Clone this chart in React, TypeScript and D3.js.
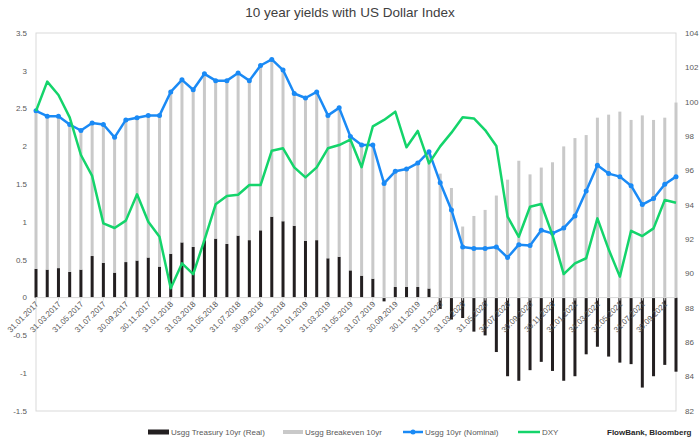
import * as React from "react";
import * as d3 from "d3";

// month-end categories, Jan 2017 .. Oct 2021
const dates = [
  "31.01.2017", "28.02.2017", "31.03.2017", "30.04.2017", "31.05.2017", "30.06.2017",
  "31.07.2017", "31.08.2017", "30.09.2017", "31.10.2017", "30.11.2017", "31.12.2017",
  "31.01.2018", "28.02.2018", "31.03.2018", "30.04.2018", "31.05.2018", "30.06.2018",
  "31.07.2018", "31.08.2018", "30.09.2018", "31.10.2018", "30.11.2018", "31.12.2018",
  "31.01.2019", "28.02.2019", "31.03.2019", "30.04.2019", "31.05.2019", "30.06.2019",
  "31.07.2019", "31.08.2019", "30.09.2019", "31.10.2019", "30.11.2019", "31.12.2019",
  "31.01.2020", "29.02.2020", "31.03.2020", "30.04.2020", "31.05.2020", "30.06.2020",
  "31.07.2020", "31.08.2020", "30.09.2020", "31.10.2020", "30.11.2020", "31.12.2020",
  "31.01.2021", "28.02.2021", "31.03.2021", "30.04.2021", "31.05.2021", "30.06.2021",
  "31.07.2021", "31.08.2021", "30.09.2021", "31.10.2021",
];

const real = [
  0.38, 0.37, 0.39, 0.34, 0.37, 0.55, 0.46, 0.33, 0.47, 0.49, 0.53, 0.41,
  0.58, 0.73, 0.67, 0.76, 0.78, 0.71, 0.82, 0.76, 0.89, 1.07, 1.01, 0.95,
  0.75, 0.76, 0.52, 0.54, 0.36, 0.29, 0.25, -0.05, 0.14, 0.14, 0.14, 0.12,
  -0.15, -0.29, -0.27, -0.45, -0.5, -0.72, -1.04, -1.1, -0.96, -0.85, -0.97, -1.1,
  -1.04, -0.75, -0.65, -0.78, -0.86, -0.88, -1.19, -1.04, -0.89, -0.98,
];

const breakeven = [
  2.09, 2.03, 2.01, 1.95, 1.84, 1.76, 1.83, 1.79, 1.88, 1.89, 1.88, 2.0,
  2.14, 2.15, 2.08, 2.2, 2.09, 2.16, 2.15, 2.11, 2.18, 2.08, 2.0, 1.75,
  1.89, 1.96, 1.89, 1.97, 1.77, 1.73, 1.77, 1.56, 1.53, 1.56, 1.64, 1.81,
  1.64, 1.45, 0.94, 1.08, 1.16, 1.35, 1.56, 1.81, 1.63, 1.72, 1.79, 2.0,
  2.11, 2.15, 2.38, 2.42, 2.46, 2.35, 2.41, 2.35, 2.38, 2.58,
];

const nominal = [
  2.47, 2.4, 2.4, 2.29, 2.21, 2.31, 2.29, 2.12, 2.35, 2.38, 2.41, 2.41,
  2.72, 2.88, 2.75, 2.96, 2.87, 2.87, 2.97, 2.87, 3.07, 3.15, 3.01, 2.7,
  2.64, 2.72, 2.41, 2.51, 2.13, 2.02, 2.02, 1.51, 1.67, 1.7, 1.78, 1.93,
  1.52, 1.16, 0.67, 0.65, 0.65, 0.67, 0.53, 0.7, 0.69, 0.89, 0.85, 0.92,
  1.08, 1.41, 1.75, 1.64, 1.6, 1.48, 1.23, 1.31, 1.5, 1.6,
];

const dxy = [
  99.46, 101.17, 100.39, 99.09, 96.9, 95.68, 92.92, 92.65, 93.08, 94.61, 93.02, 92.14,
  89.14, 90.59, 89.97, 91.95, 94.03, 94.51, 94.59, 95.15, 95.15, 97.15, 97.29, 96.18,
  95.6, 96.18, 97.29, 97.48, 97.8, 96.19, 98.57, 98.94, 99.42, 97.35, 98.3, 96.41,
  97.4, 98.2, 99.09, 99.03, 98.35, 97.42, 93.31, 92.14, 93.89, 94.05, 92.24, 89.97,
  90.59, 90.89, 93.21, 91.41, 89.82, 92.49, 92.18, 92.63, 94.28, 94.12,
];

const leftTicks = [-1.5, -1, -0.5, 0, 0.5, 1, 1.5, 2, 2.5, 3, 3.5];
const rightTicks = [82, 84, 86, 88, 90, 92, 94, 96, 98, 100, 102, 104];

const title = "10 year yields with US Dollar Index";
const seriesNames = ["Usgg Treasury 10yr (Real)", "Usgg Breakeven 10yr", "Usgg 10yr (Nominal)", "DXY"];
const source = "FlowBank, Bloomberg";

const W = 700;
const H = 439;
const left = 36;
const right = 676;
const top = 33;
const bottom = 411;

const BLACK = "#231f20";
const GRAY = "#c9c9c9";
const BLUE = "#1a8af5";
const GREEN = "#14d46b";
const TEXT = "#595959";
const FONT = "'Liberation Sans', Arial, sans-serif";

export default function App() {
  const x = d3.scaleLinear().domain([0, dates.length - 1]).range([left, right]);
  const yL = d3.scaleLinear().domain([-1.5, 3.5]).range([bottom, top]);
  const yR = d3.scaleLinear().domain([82, 104]).range([bottom, top]);

  const rows = dates.map((d, i) => ({ real: real[i], be: breakeven[i] }));
  // excel-style stacked columns: negatives go below zero, positives pile up
  const stacked = d3
    .stack<{ real: number; be: number }>()
    .keys(["real", "be"])
    .offset(d3.stackOffsetDiverging)(rows as any);

  const nomLine = d3
    .line<number>()
    .x((d, i) => x(i))
    .y((d) => yL(d));
  const dxyLine = d3
    .line<number>()
    .x((d, i) => x(i))
    .y((d) => yR(d));

  const barW = 3;
  const zeroY = yL(0);

  return (
    <svg
      width={W}
      height={H}
      style={{ position: "absolute", left: 0, top: 0, background: "#fff" }}
      fontFamily={FONT}
    >
      <text x={W / 2} y={17} textAnchor="middle" fontSize={13.5} fill="#404040">
        {title}
      </text>

      <rect x={left} y={top} width={right - left} height={bottom - top} fill="none" stroke="#d9d9d9" />

      {/* stacked bars */}
      {stacked.map((layer, li) => (
        <g key={layer.key} fill={li === 0 ? BLACK : GRAY}>
          {layer.map((s, i) => (
            <rect
              key={i}
              x={x(i) - barW / 2}
              y={yL(Math.max(s[0], s[1]))}
              width={barW}
              height={Math.abs(yL(s[0]) - yL(s[1]))}
            />
          ))}
        </g>
      ))}

      <line x1={left} x2={right} y1={zeroY} y2={zeroY} stroke="#d9d9d9" />
      <g stroke="#d9d9d9">
        {dates.map((d, i) =>
          i % 2 === 0 ? <line key={d} x1={x(i)} x2={x(i)} y1={zeroY} y2={zeroY + 3} /> : null
        )}
      </g>

      {/* left axis */}
      <g fontSize={8} fill={TEXT} textAnchor="end">
        {leftTicks.map((t) => (
          <text key={t} x={27} y={yL(t)} dy="0.35em">
            {t}
          </text>
        ))}
      </g>
      {/* right axis */}
      <g fontSize={8} fill={TEXT}>
        {rightTicks.map((t) => (
          <text key={t} x={685} y={yR(t)} dy="0.35em">
            {t}
          </text>
        ))}
      </g>
      {/* x labels */}
      <g fontSize={8} fill={TEXT} textAnchor="end">
        {dates.map((d, i) =>
          i % 2 === 0 ? (
            <text key={d} transform={`translate(${x(i) + 3},${zeroY + 7}) rotate(-45)`}>
              {d}
            </text>
          ) : null
        )}
      </g>

      {/* nominal */}
      <path d={nomLine(nominal) || undefined} fill="none" stroke={BLUE} strokeWidth={2.5} strokeLinejoin="round" />
      <g fill={BLUE}>
        {nominal.map((d, i) => (
          <circle key={i} cx={x(i)} cy={yL(d)} r={2.5} />
        ))}
      </g>

      {/* DXY */}
      <path d={dxyLine(dxy) || undefined} fill="none" stroke={GREEN} strokeWidth={2.5} strokeLinejoin="round" />

      {/* legend */}
      <g fontSize={8} fill={TEXT}>
        <rect x={148} y={429.5} width={21} height={5} fill={BLACK} />
        <text x={171} y={432} dy="0.35em">{seriesNames[0]}</text>
        <rect x={283} y={430} width={20} height={4} fill={GRAY} />
        <text x={305} y={432} dy="0.35em">{seriesNames[1]}</text>
        <line x1={403} x2={423} y1={432} y2={432} stroke={BLUE} strokeWidth={2.5} />
        <circle cx={413} cy={432} r={2.5} fill={BLUE} />
        <text x={425} y={432} dy="0.35em">{seriesNames[2]}</text>
        <line x1={518} x2={540} y1={432} y2={432} stroke={GREEN} strokeWidth={2.5} />
        <text x={542} y={432} dy="0.35em">{seriesNames[3]}</text>
        <text x={607} y={432} dy="0.35em" fontWeight="bold" fill="#262626">{source}</text>
      </g>
    </svg>
  );
}
